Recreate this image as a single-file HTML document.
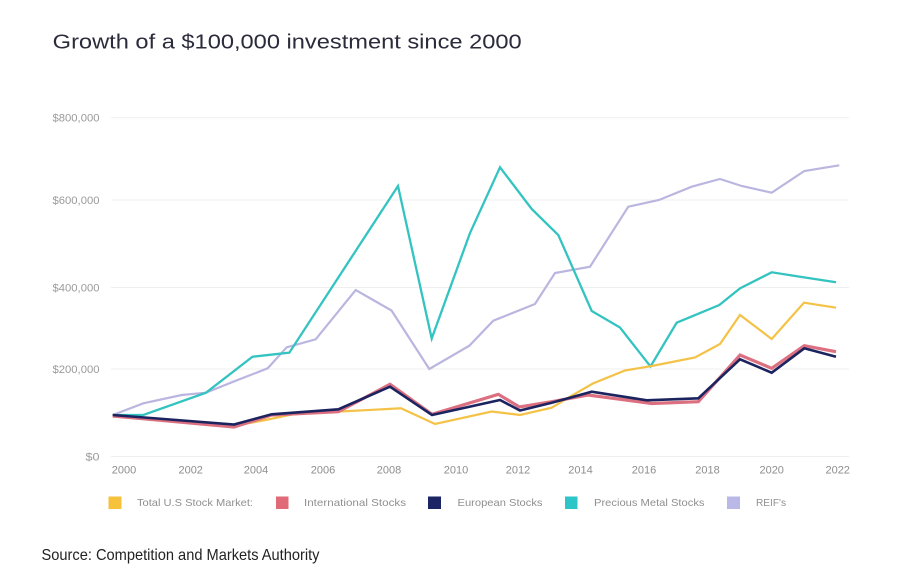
<!DOCTYPE html>
<html>
<head>
<meta charset="utf-8">
<style>
  html, body { margin: 0; padding: 0; background: #ffffff; }
  svg { display: block; }
  text { font-family: "Liberation Sans", sans-serif; }
</style>
</head>
<body>
<svg width="901" height="582" viewBox="0 0 901 582" xmlns="http://www.w3.org/2000/svg">
  <rect x="0" y="0" width="901" height="582" fill="#ffffff"/>

  <!-- Title -->
  <text x="52.7" y="48.5" font-size="20" fill="#2b2b3b" textLength="469" lengthAdjust="spacingAndGlyphs">Growth of a $100,000 investment since 2000</text>

  <!-- Gridlines -->
  <g stroke="#efefef" stroke-width="1">
    <line x1="111" y1="117.7" x2="849" y2="117.7"/>
    <line x1="111" y1="200" x2="849" y2="200"/>
    <line x1="111" y1="287.5" x2="849" y2="287.5"/>
    <line x1="111" y1="369" x2="849" y2="369"/>
    <line x1="111" y1="456.5" x2="849" y2="456.5"/>
  </g>

  <!-- Y labels -->
  <g font-size="11" fill="#9a9a9a" text-anchor="end">
    <text x="99.5" y="121.5" textLength="47" lengthAdjust="spacingAndGlyphs">$800,000</text>
    <text x="99.5" y="204" textLength="47" lengthAdjust="spacingAndGlyphs">$600,000</text>
    <text x="99.5" y="291.5" textLength="47" lengthAdjust="spacingAndGlyphs">$400,000</text>
    <text x="99.5" y="373" textLength="47" lengthAdjust="spacingAndGlyphs">$200,000</text>
    <text x="99.5" y="460.5" textLength="14" lengthAdjust="spacingAndGlyphs">$0</text>
  </g>

  <!-- X labels -->
  <g font-size="11" fill="#8e8e8e" text-anchor="middle">
    <text x="124" y="473.5">2000</text>
    <text x="190.7" y="473.5">2002</text>
    <text x="256" y="473.5">2004</text>
    <text x="323" y="473.5">2006</text>
    <text x="389" y="473.5">2008</text>
    <text x="456" y="473.5">2010</text>
    <text x="518" y="473.5">2012</text>
    <text x="580.5" y="473.5">2014</text>
    <text x="644" y="473.5">2016</text>
    <text x="707.5" y="473.5">2018</text>
    <text x="771.7" y="473.5">2020</text>
    <text x="837.7" y="473.5">2022</text>
  </g>

  <!-- Series -->
  <g fill="none" stroke-linejoin="miter" stroke-linecap="butt">
    <!-- REIF's (lavender) -->
    <polyline stroke="#bab6e0" stroke-width="2.2" points="112.7,415 143.3,403.3 181.7,395 206,392.7 233.3,381.7 267.7,368.3 286.7,347.3 315.7,339.3 355.7,290 391.5,310.5 429.3,369 469.3,345.7 493.3,320.7 535,304 555,273 590,266.7 628.3,206.7 659,200 691.7,186.7 720,179 741.7,186 771.7,192.7 804.3,171 839.3,165.3"/>
    <!-- Precious Metal (teal) -->
    <polyline stroke="#33c3c1" stroke-width="2.3" points="112.7,415 143.3,415 206,392.7 252.5,356.7 289.3,352.7 398,186 431.7,338.5 470,233 500,167.3 531.7,209 558.3,235 591.7,311 620,327.5 650.5,366.5 676.7,322.7 719.3,305 740,288.3 771.7,272.3 803.3,277.3 836,282.3"/>
    <!-- Total US (yellow) -->
    <polyline stroke="#f4c246" stroke-width="2.2" points="112.7,415 233,426 263,420.5 293,414.3 340,411.5 401,408.3 435,424 491.7,411.5 520,415 551.7,407.7 570,396.7 593.3,383.3 625,370.5 651.7,366 695,357.5 720,344 740,315 771.7,339 804,302.7 836,307.7"/>
    <!-- International (pink) -->
    <polyline stroke="#dc7080" stroke-width="3.2" points="112.7,416 234,427 271.7,415 338.3,411.7 390,384.3 432,414.3 498.3,394.3 519.5,407 551.7,401.7 588,395 651.7,403.5 698.3,401.7 740,355 771.7,368.3 804.3,345.7 836,351.7"/>
    <!-- European (navy) -->
    <polyline stroke="#1c2460" stroke-width="2.6" points="112.7,415 234,424.5 271.7,414.3 338.3,409.3 390,386.7 432,415 500,400 520,410.5 551.7,402.7 591.7,391.7 646.7,400.3 698.3,398.3 740,359.3 771.7,372.7 804.3,348.3 836,356.7"/>
  </g>

  <!-- Legend -->
  <g>
    <rect x="108.5" y="496.5" width="13" height="12.5" fill="#f7c23b"/>
    <rect x="276" y="496.5" width="12.5" height="12.5" fill="#e06a78"/>
    <rect x="428" y="496.5" width="13" height="12.5" fill="#1b2563"/>
    <rect x="565" y="496.5" width="12.5" height="12.5" fill="#2cc6c8"/>
    <rect x="727" y="496.5" width="13" height="12.5" fill="#b9b8e6"/>
  </g>
  <g font-size="10.5" fill="#8f8f8f">
    <text x="137" y="506" textLength="116" lengthAdjust="spacingAndGlyphs">Total U.S Stock Market:</text>
    <text x="304" y="506" textLength="102" lengthAdjust="spacingAndGlyphs">International Stocks</text>
    <text x="457.5" y="506" textLength="85" lengthAdjust="spacingAndGlyphs">European Stocks</text>
    <text x="594" y="506" textLength="110.5" lengthAdjust="spacingAndGlyphs">Precious Metal Stocks</text>
    <text x="756" y="506" textLength="30" lengthAdjust="spacingAndGlyphs">REIF's</text>
  </g>

  <!-- Source -->
  <text x="41.5" y="560" font-size="16" fill="#222222" textLength="278" lengthAdjust="spacingAndGlyphs">Source: Competition and Markets Authority</text>
</svg>
</body>
</html>
